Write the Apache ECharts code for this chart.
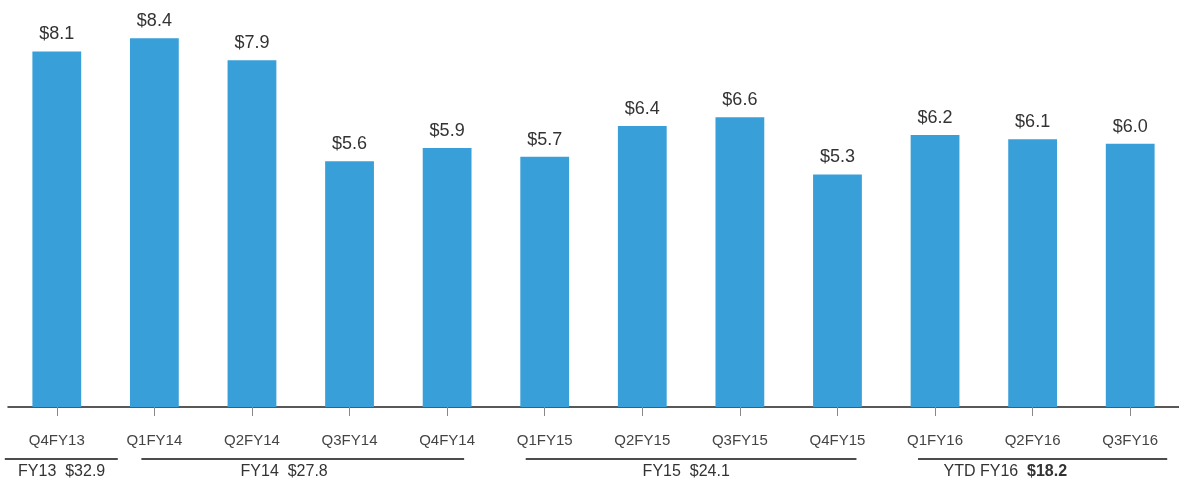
<!DOCTYPE html>
<html>
<head>
<meta charset="utf-8">
<script src="https://cdn.jsdelivr.net/npm/echarts@6/dist/echarts.min.js"></script>
<style>
  html, body { margin: 0; padding: 0; background: #fff; }
  #chart { width: 1179px; height: 484px; }
</style>
</head>
<body>
<div id="chart"></div>
<script>
  // quarterly values ($)
  var quarters = ['Q4FY13', 'Q1FY14', 'Q2FY14', 'Q3FY14', 'Q4FY14', 'Q1FY15',
                  'Q2FY15', 'Q3FY15', 'Q4FY15', 'Q1FY16', 'Q2FY16', 'Q3FY16'];
  var values = [8.1, 8.4, 7.9, 5.6, 5.9, 5.7, 6.4, 6.6, 5.3, 6.2, 6.1, 6.0];

  // fiscal year groups under the axis
  var fyNames = ['FY13', 'FY14', 'FY15', 'YTD FY16'];
  var fyTotals = ['$32.9', '$27.8', '$24.1', '$18.2'];
  var fyFirst = [0, 1, 5, 9];
  var fyLast = [0, 4, 8, 11];
  var fyBold = [false, false, false, true];

  var chart = echarts.init(document.getElementById('chart'));

  chart.setOption({
    animation: false,
    grid: { left: 8, right: -3, top: 12, bottom: 77 },
    xAxis: {
      type: 'category',
      data: quarters,
      axisLine: { lineStyle: { color: '#222', width: 1.5 } },
      axisTick: { show: true, alignWithLabel: true, length: 9, lineStyle: { color: '#888', width: 1 } },
      axisLabel: { margin: 26, fontSize: 15, color: '#444', fontFamily: 'Liberation Sans' }
    },
    yAxis: {
      type: 'value', min: 0, max: 9,
      show: false, splitLine: { show: false }
    },
    series: [{
      type: 'bar',
      data: values,
      barWidth: '50%',
      itemStyle: { color: '#389fd9' },
      label: {
        show: true, position: 'top', distance: 8,
        fontSize: 18, color: '#333', fontFamily: 'Liberation Sans',
        formatter: function (p) { return '$' + p.value.toFixed(1); }
      }
    }]
  });

  // brackets + totals below the category labels
  var padL = [52, 13, 19, 17];
  var padR = [61, 17, 19, 37];
  var labelAt = [0.05, 2.33, 6.45, 9.72];

  var x0 = chart.convertToPixel({ xAxisIndex: 0 }, quarters[0]);
  var step = chart.convertToPixel({ xAxisIndex: 0 }, quarters[1]) - x0;
  var graphics = [];
  fyNames.forEach(function (name, i) {
    var a = chart.convertToPixel({ xAxisIndex: 0 }, quarters[fyFirst[i]]) - padL[i];
    var b = chart.convertToPixel({ xAxisIndex: 0 }, quarters[fyLast[i]]) + padR[i];
    graphics.push({
      type: 'line',
      shape: { x1: a, y1: 459, x2: b, y2: 459 },
      style: { stroke: '#111', lineWidth: 1.5 }
    });
    graphics.push({
      type: 'text',
      x: x0 + step * labelAt[i],
      y: 472,
      style: {
        text: name + '  {t|' + fyTotals[i] + '}',
        rich: { t: { fontSize: 16, fontWeight: fyBold[i] ? 'bold' : 'normal', fill: '#333', fontFamily: 'Liberation Sans' } },
        fontSize: 16, fill: '#333', fontFamily: 'Liberation Sans',
        align: 'center', verticalAlign: 'middle'
      }
    });
  });
  chart.setOption({ graphic: graphics });
</script>
</body>
</html>
